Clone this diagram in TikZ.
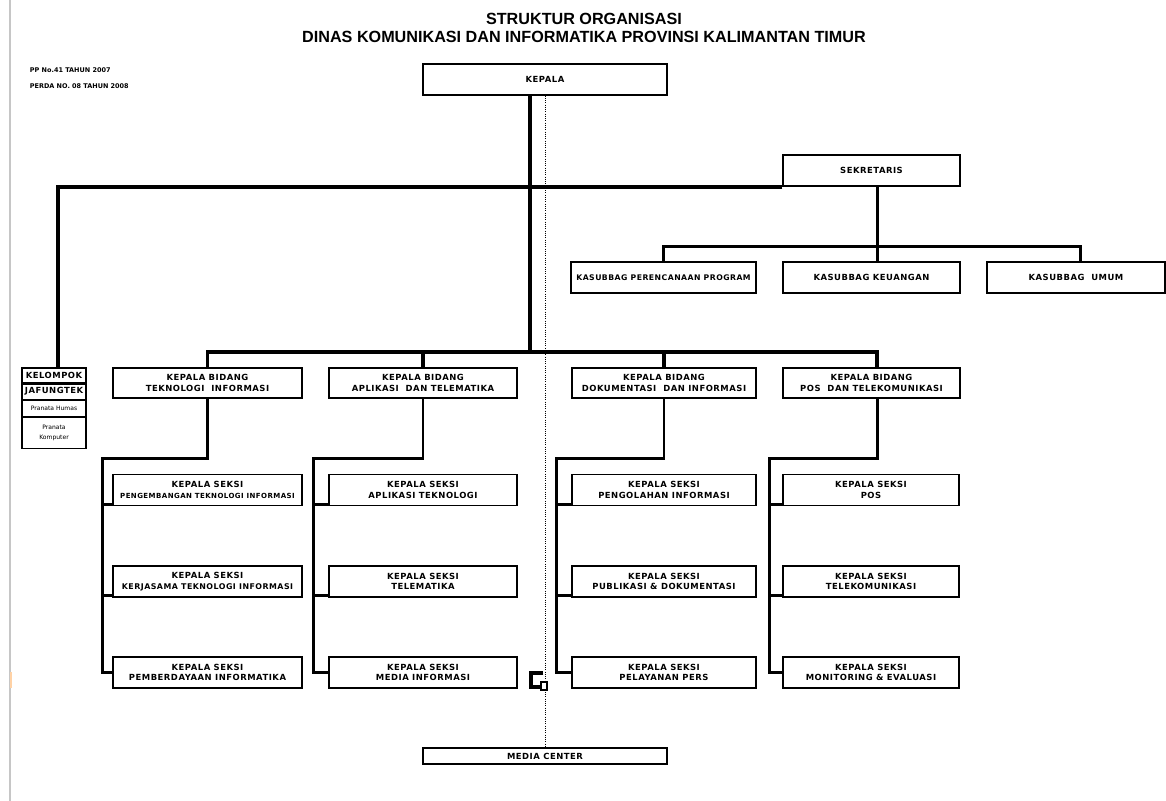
\documentclass[tikz,border=0pt]{standalone}
\usepackage{fontspec}
\setmainfont{DejaVu Sans}
\newfontfamily\kotakfont{DejaVu Sans}[LetterSpace=6]
\newfontfamily\judulfont{Liberation Sans}
\usetikzlibrary{positioning}

\tikzset{
  kotak/.style={draw, line width=1pt, fill=white, inner sep=0pt, align=center,
    font=\kotakfont\bfseries\fontsize{6}{7.5}\selectfont},
  kkotak/.style={kotak, minimum width=1.6cm, line width=0.8pt},
  garis/.style={line width=2.6pt},
  cabang/.style={line width=2pt},
}

\begin{document}
\begin{tikzpicture}[x=0.025cm, y=-0.025cm]
\useasboundingbox (0,0) rectangle (1166,801);
\draw[gray!45, line width=0.8pt] (10,0) -- (10,801);
\draw[orange!35, line width=1.2pt] (11,672) -- (11,688);

% judul
\node[font=\judulfont\bfseries\fontsize{11.5}{13}\selectfont, align=center] (judul) at (584,28)
  {STRUKTUR ORGANISASI\\DINAS KOMUNIKASI DAN INFORMATIKA PROVINSI KALIMANTAN TIMUR};
\node[anchor=west, font=\bfseries\fontsize{4.6}{5}\selectfont] (pp) at (25,70) {PP No.41 TAHUN 2007};
\node[anchor=west, font=\bfseries\fontsize{4.6}{5}\selectfont] (perda) at (25,86) {PERDA NO. 08 TAHUN 2008};

% pimpinan dan sekretariat
\node[kotak, minimum width=6.1cm, minimum height=0.775cm] (kepala) at (545,79.5) {KEPALA};
\node[kotak, minimum width=4.425cm, minimum height=0.775cm] (sekretaris) at (871.5,170.5) {SEKRETARIS};
\node[kotak, minimum width=4.625cm, minimum height=0.775cm, font=\kotakfont\bfseries\fontsize{5.5}{7}\selectfont] (program) at (663.5,277.5) {KASUBBAG PERENCANAAN PROGRAM};
\node[kotak, minimum width=4.425cm, minimum height=0.775cm] (keuangan) at (871.5,277.5) {KASUBBAG KEUANGAN};
\node[kotak, minimum width=4.45cm, minimum height=0.775cm] (umum) at (1076,277.5) {KASUBBAG \ UMUM};

% jabatan fungsional
\node[kkotak, minimum height=0.375cm] (kelompok) at (54,375.5) {KELOMPOK};
\node[kkotak, minimum height=0.375cm, below=0pt of kelompok] (jafung) {JAFUNGTEK};
\node[kkotak, minimum height=0.4cm, below=0pt of jafung, font=\fontsize{4.3}{5.5}\selectfont] (humas) {Pranata Humas};
\node[kkotak, minimum height=0.775cm, below=0pt of humas, font=\fontsize{4.3}{7}\selectfont] (komputer) {Pranata\\Komputer};

% bidang
\node[kotak, minimum width=4.725cm, minimum height=0.75cm] (bid1) at (207.5,383) {KEPALA BIDANG\\TEKNOLOGI \ INFORMASI};
\node[kotak, minimum width=4.7cm, minimum height=0.75cm] (bid2) at (423,383) {KEPALA BIDANG\\APLIKASI \ DAN TELEMATIKA};
\node[kotak, minimum width=4.6cm, minimum height=0.75cm] (bid3) at (664,383) {KEPALA BIDANG\\DOKUMENTASI \ DAN INFORMASI};
\node[kotak, minimum width=4.425cm, minimum height=0.75cm] (bid4) at (871.5,383) {KEPALA BIDANG\\POS \ DAN TELEKOMUNIKASI};

% seksi
\node[kotak, minimum width=4.725cm, minimum height=0.775cm] (s11) at (207.5,490) {KEPALA SEKSI\\{\fontsize{5}{7.5}\selectfont PENGEMBANGAN TEKNOLOGI INFORMASI}};
\node[kotak, minimum width=4.725cm, minimum height=0.775cm] (s12) at (207.5,581.5) {KEPALA SEKSI\\{\fontsize{5.6}{7.5}\selectfont KERJASAMA TEKNOLOGI INFORMASI}};
\node[kotak, minimum width=4.725cm, minimum height=0.775cm] (s13) at (207.5,672.5) {KEPALA SEKSI\\PEMBERDAYAAN INFORMATIKA};
\node[kotak, minimum width=4.7cm, minimum height=0.775cm] (s21) at (423,490) {KEPALA SEKSI\\APLIKASI TEKNOLOGI};
\node[kotak, minimum width=4.7cm, minimum height=0.775cm] (s22) at (423,581.5) {KEPALA SEKSI\\TELEMATIKA};
\node[kotak, minimum width=4.7cm, minimum height=0.775cm] (s23) at (423,672.5) {KEPALA SEKSI\\MEDIA INFORMASI};
\node[kotak, minimum width=4.6cm, minimum height=0.775cm] (s31) at (664,490) {KEPALA SEKSI\\PENGOLAHAN INFORMASI};
\node[kotak, minimum width=4.6cm, minimum height=0.775cm] (s32) at (664,581.5) {KEPALA SEKSI\\PUBLIKASI \& DOKUMENTASI};
\node[kotak, minimum width=4.6cm, minimum height=0.775cm] (s33) at (664,672.5) {KEPALA SEKSI\\PELAYANAN PERS};
\node[kotak, minimum width=4.4cm, minimum height=0.775cm] (s41) at (871,490) {KEPALA SEKSI\\POS};
\node[kotak, minimum width=4.4cm, minimum height=0.775cm] (s42) at (871,581.5) {KEPALA SEKSI\\TELEKOMUNIKASI};
\node[kotak, minimum width=4.4cm, minimum height=0.775cm] (s43) at (871,672.5) {KEPALA SEKSI\\MONITORING \& EVALUASI};

\node[kotak, minimum width=6.1cm, minimum height=0.4cm] (media) at (545,756) {MEDIA CENTER};

% garis komando
\coordinate (trunk) at (530,353);
\draw[garis] (kepala.south -| trunk) -- (trunk);
\draw[garis] (sekretaris.south west) -| ([xshift=0.1cm]kelompok.north);
\draw[cabang] ([xshift=0.14cm]sekretaris.south) -- ([xshift=0.14cm]keuangan.north);
\draw[cabang] (program.north) -- ++(0,-15) -| ([xshift=0.12cm]umum.north);
\draw[garis] (bid1.north) -- ++(0,-15) -| ([xshift=0.14cm]bid4.north);
\draw[garis] (bid2.north) -- ++(0,-15);
\draw[garis] (bid3.north) -- ++(0,-15);

\draw[cabang] (bid1.south) -- ++(0,60) -| ([xshift=-0.25cm]s13.west) -- (s13.west);
\draw[cabang] ([xshift=-0.25cm,yshift=0.05cm]s11.south west) -- ([yshift=0.05cm]s11.south west);
\draw[cabang] ([xshift=-0.25cm,yshift=0.05cm]s12.south west) -- ([yshift=0.05cm]s12.south west);
\draw[cabang] (bid2.south) -- ++(0,60) -| ([xshift=-0.375cm]s23.west) -- (s23.west);
\draw[cabang] ([xshift=-0.375cm,yshift=0.05cm]s21.south west) -- ([yshift=0.05cm]s21.south west);
\draw[cabang] ([xshift=-0.375cm,yshift=0.05cm]s22.south west) -- ([yshift=0.05cm]s22.south west);
\draw[cabang] (bid3.south) -- ++(0,60) -| ([xshift=-0.375cm]s33.west) -- (s33.west);
\draw[cabang] ([xshift=-0.375cm,yshift=0.05cm]s31.south west) -- ([yshift=0.05cm]s31.south west);
\draw[cabang] ([xshift=-0.375cm,yshift=0.05cm]s32.south west) -- ([yshift=0.05cm]s32.south west);
\draw[cabang] ([xshift=0.14cm]bid4.south) -- ++(0,60) -| ([xshift=-0.325cm]s43.west) -- (s43.west);
\draw[cabang] ([xshift=-0.325cm,yshift=0.05cm]s41.south west) -- ([yshift=0.05cm]s41.south west);
\draw[cabang] ([xshift=-0.325cm,yshift=0.05cm]s42.south west) -- ([yshift=0.05cm]s42.south west);

% media center
\draw[densely dotted, line width=0.6pt] (kepala.south) -- (media.north);
\draw[line width=2.2pt] (543,673) -| (531,687) -- (543,687);
\draw[fill=white, line width=0.9pt] (541,682) rectangle (547,690);
\end{tikzpicture}
\end{document}
